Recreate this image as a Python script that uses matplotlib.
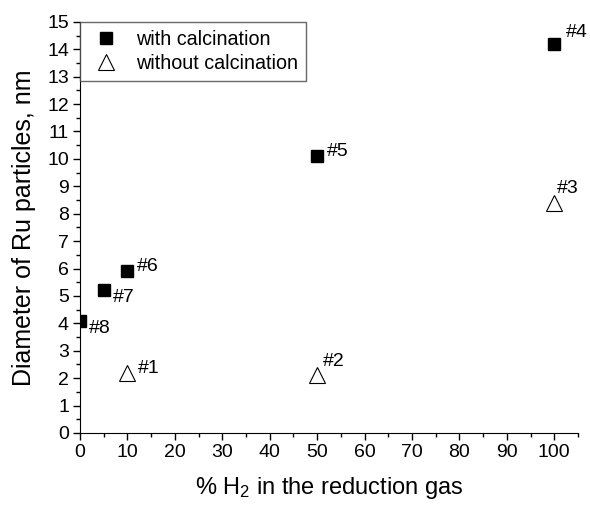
import matplotlib.pyplot as plt
from matplotlib.ticker import MultipleLocator

plt.rcParams['font.family'] = ['Liberation Sans', 'DejaVu Sans']
plt.rcParams['mathtext.fontset'] = 'custom'
plt.rcParams['mathtext.rm'] = 'Liberation Sans'
plt.rcParams['mathtext.it'] = 'Liberation Sans:italic'

# samples with calcination
calc_x = [0, 5, 10, 50, 100]
calc_y = [4.1, 5.2, 5.9, 10.1, 14.2]
calc_labels = ['#8', '#7', '#6', '#5', '#4']

# samples without calcination
nocalc_x = [10, 50, 100]
nocalc_y = [2.2, 2.1, 8.4]
nocalc_labels = ['#1', '#2', '#3']

fig = plt.figure(figsize=(5.9, 5.07), dpi=100)
ax = fig.add_axes([0.1356, 0.146, 0.844, 0.811])

ax.plot(calc_x, calc_y, 's', color='black', markersize=8.6, label='with calcination')
ax.plot(nocalc_x, nocalc_y, '^', markerfacecolor='white', markeredgecolor='black',
        markeredgewidth=0.8, markersize=11.5, label='without calcination')

# label offsets in points (text baseline)
calc_off = [(6.5, -9), (6.5, -8), (7, 0), (7, 0), (8.5, 5)]
nocalc_off = [(7.5, 0), (4, 7), (2, 7)]
for x, y, t, o in zip(calc_x, calc_y, calc_labels, calc_off):
    ax.annotate(t, (x, y), xytext=o, textcoords='offset points', fontsize=14)
for x, y, t, o in zip(nocalc_x, nocalc_y, nocalc_labels, nocalc_off):
    ax.annotate(t, (x, y), xytext=o, textcoords='offset points', fontsize=14)

ax.set_xlim(0, 105)
ax.set_ylim(0, 15)
ax.xaxis.set_major_locator(MultipleLocator(10))
ax.xaxis.set_minor_locator(MultipleLocator(5))
ax.yaxis.set_major_locator(MultipleLocator(1))
ax.yaxis.set_minor_locator(MultipleLocator(0.5))
ax.tick_params(which='major', length=5, width=1, labelsize=14, pad=3)
ax.tick_params(which='minor', length=3, width=1)
ax.spines['top'].set_visible(False)
ax.spines['right'].set_visible(False)

ax.set_xlabel('% H$_2$ in the reduction gas', fontsize=17, labelpad=10)
ax.set_ylabel('Diameter of Ru particles, nm', fontsize=18, labelpad=8)

leg = ax.legend(loc='upper left', fontsize=14.2, frameon=True, fancybox=False,
                borderaxespad=0, handlelength=1.8, handletextpad=0.6,
                borderpad=0.42, labelspacing=0.25)
leg.get_frame().set_edgecolor('#444444')
leg.get_frame().set_linewidth(1)

fig.savefig('out.png', dpi=100)
